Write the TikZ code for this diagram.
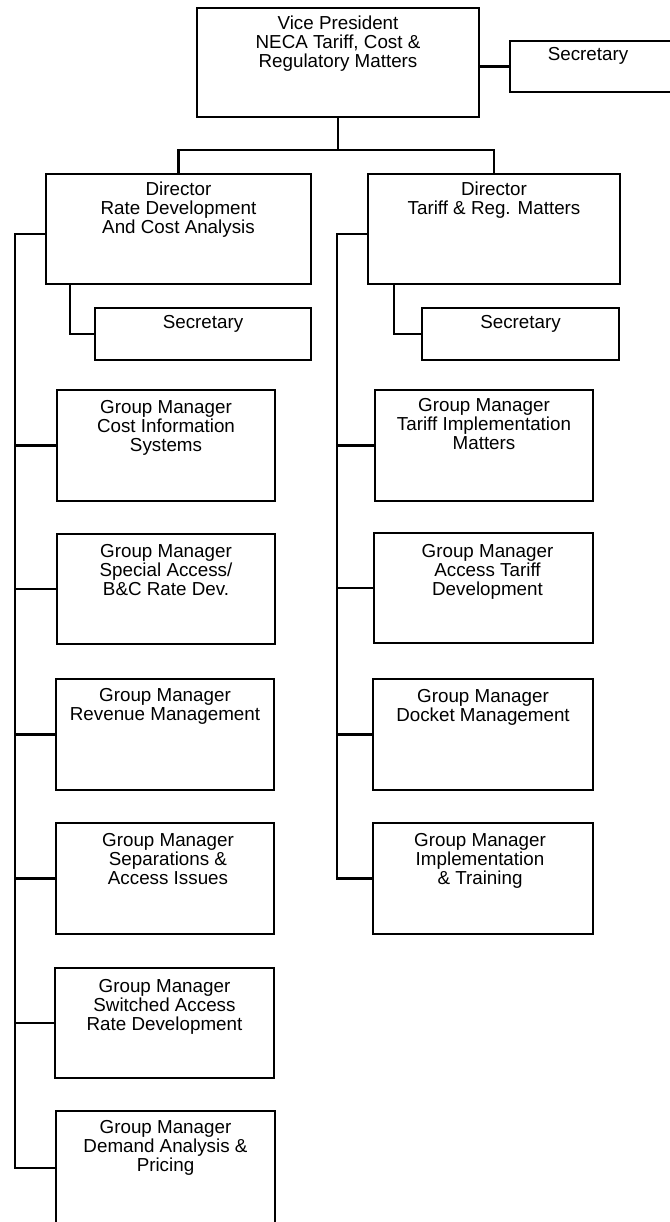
\documentclass[tikz,border=0pt]{standalone}
\usepackage{fontspec}
\setmainfont{Liberation Sans}
\begin{document}
\begin{tikzpicture}[x=1pt,y=-1pt,
  ob/.style={draw, line width=2.2pt, inner sep=0pt, outer sep=0pt, anchor=north west},
  lbl/.style={inner sep=0pt, anchor=north, align=center, font=\fontsize{18.8}{19}\selectfont},
  conn/.style={line width=2.2pt}]
\useasboundingbox (0,0) rectangle (669,1222);
% boxes
\node[ob, minimum width=282pt, minimum height=109pt] (vp) at (197,8) {};
\node[ob, minimum width=164pt, minimum height=51pt] (sect) at (510,41) {};
\node[ob, minimum width=265pt, minimum height=110pt] (dirl) at (46,174) {};
\node[ob, minimum width=252pt, minimum height=110pt] (dirr) at (368,174) {};
\node[ob, minimum width=216pt, minimum height=52pt] (secl) at (95,308) {};
\node[ob, minimum width=197pt, minimum height=52pt] (secr) at (422,308) {};
\node[ob, minimum width=218pt, minimum height=111pt] (gl1) at (57,390) {};
\node[ob, minimum width=218pt, minimum height=110pt] (gl2) at (57,534) {};
\node[ob, minimum width=218pt, minimum height=111pt] (gl3) at (56,679) {};
\node[ob, minimum width=218pt, minimum height=111pt] (gl4) at (56,823) {};
\node[ob, minimum width=219pt, minimum height=110pt] (gl5) at (55,968) {};
\node[ob, minimum width=219pt, minimum height=114pt] (gl6) at (56,1111) {};
\node[ob, minimum width=218pt, minimum height=111pt] (gr1) at (375,390) {};
\node[ob, minimum width=219pt, minimum height=110pt] (gr2) at (374,533) {};
\node[ob, minimum width=220pt, minimum height=111pt] (gr3) at (373,679) {};
\node[ob, minimum width=220pt, minimum height=111pt] (gr4) at (373,823) {};
% texts
\node[lbl, yshift=-8pt] (tvp) at (vp.north) {Vice President\\NECA Tariff, Cost \&\\Regulatory Matters};
\node[lbl, yshift=-6pt, xshift=-4pt] (tsect) at (sect.north) {Secretary};
\node[lbl, yshift=-8pt] (tdirl) at (dirl.north) {Director\\Rate Development\\And Cost Analysis};
\node[lbl, yshift=-8pt] (tdirr) at (dirr.north) {Director\\Tariff \& Reg. Matters};
\node[lbl, yshift=-7pt] (tsecl) at (secl.north) {Secretary};
\node[lbl, yshift=-7pt] (tsecr) at (secr.north) {Secretary};
\node[lbl, yshift=-10pt] (tgl1) at (gl1.north) {Group Manager\\Cost Information\\Systems};
\node[lbl, yshift=-10pt] (tgl2) at (gl2.north) {Group Manager\\Special Access/\\B\&C Rate Dev.};
\node[lbl, yshift=-9pt] (tgl3) at (gl3.north) {Group Manager\\Revenue Management};
\node[lbl, yshift=-10pt, xshift=3pt] (tgl4) at (gl4.north) {Group Manager\\Separations \&\\Access Issues};
\node[lbl, yshift=-11pt] (tgl5) at (gl5.north) {Group Manager\\Switched Access\\Rate Development};
\node[lbl, yshift=-9pt] (tgl6) at (gl6.north) {Group Manager\\Demand Analysis \&\\Pricing};
\node[lbl, yshift=-8pt] (tgr1) at (gr1.north) {Group Manager\\Tariff Implementation\\Matters};
\node[lbl, yshift=-11pt, xshift=4pt] (tgr2) at (gr2.north) {Group Manager\\Access Tariff\\Development};
\node[lbl, yshift=-10pt] (tgr3) at (gr3.north) {Group Manager\\Docket Management};
\node[lbl, yshift=-10pt, xshift=-3pt] (tgr4) at (gr4.north) {Group Manager\\Implementation\\\& Training};
% connectors
\coordinate (bar) at (338,150);
\draw[conn] (vp.south) -- (bar);
\draw[conn] (dirl.north) |- (bar) -| (dirr.north);
\draw[conn] (sect.west) -- (sect.west -| vp.east);
\coordinate (lbus) at (15,234);
\coordinate (rbus) at (337,234);
\draw[conn] (dirl.west |- lbus) -- (lbus) -- (lbus |- gl6.west) -- (gl6.west);
\foreach \i in {1,...,5} { \draw[conn] (gl\i.west) -- (gl\i.west -| lbus); }
\draw[conn] (dirr.west |- rbus) -- (rbus) -- (rbus |- gr4.west) -- (gr4.west);
\foreach \i in {1,...,3} { \draw[conn] (gr\i.west) -- (gr\i.west -| rbus); }
\draw[conn] ([xshift=24pt]dirl.south west) |- (secl.west);
\draw[conn] ([xshift=26pt]dirr.south west) |- (secr.west);
\end{tikzpicture}
\end{document}
